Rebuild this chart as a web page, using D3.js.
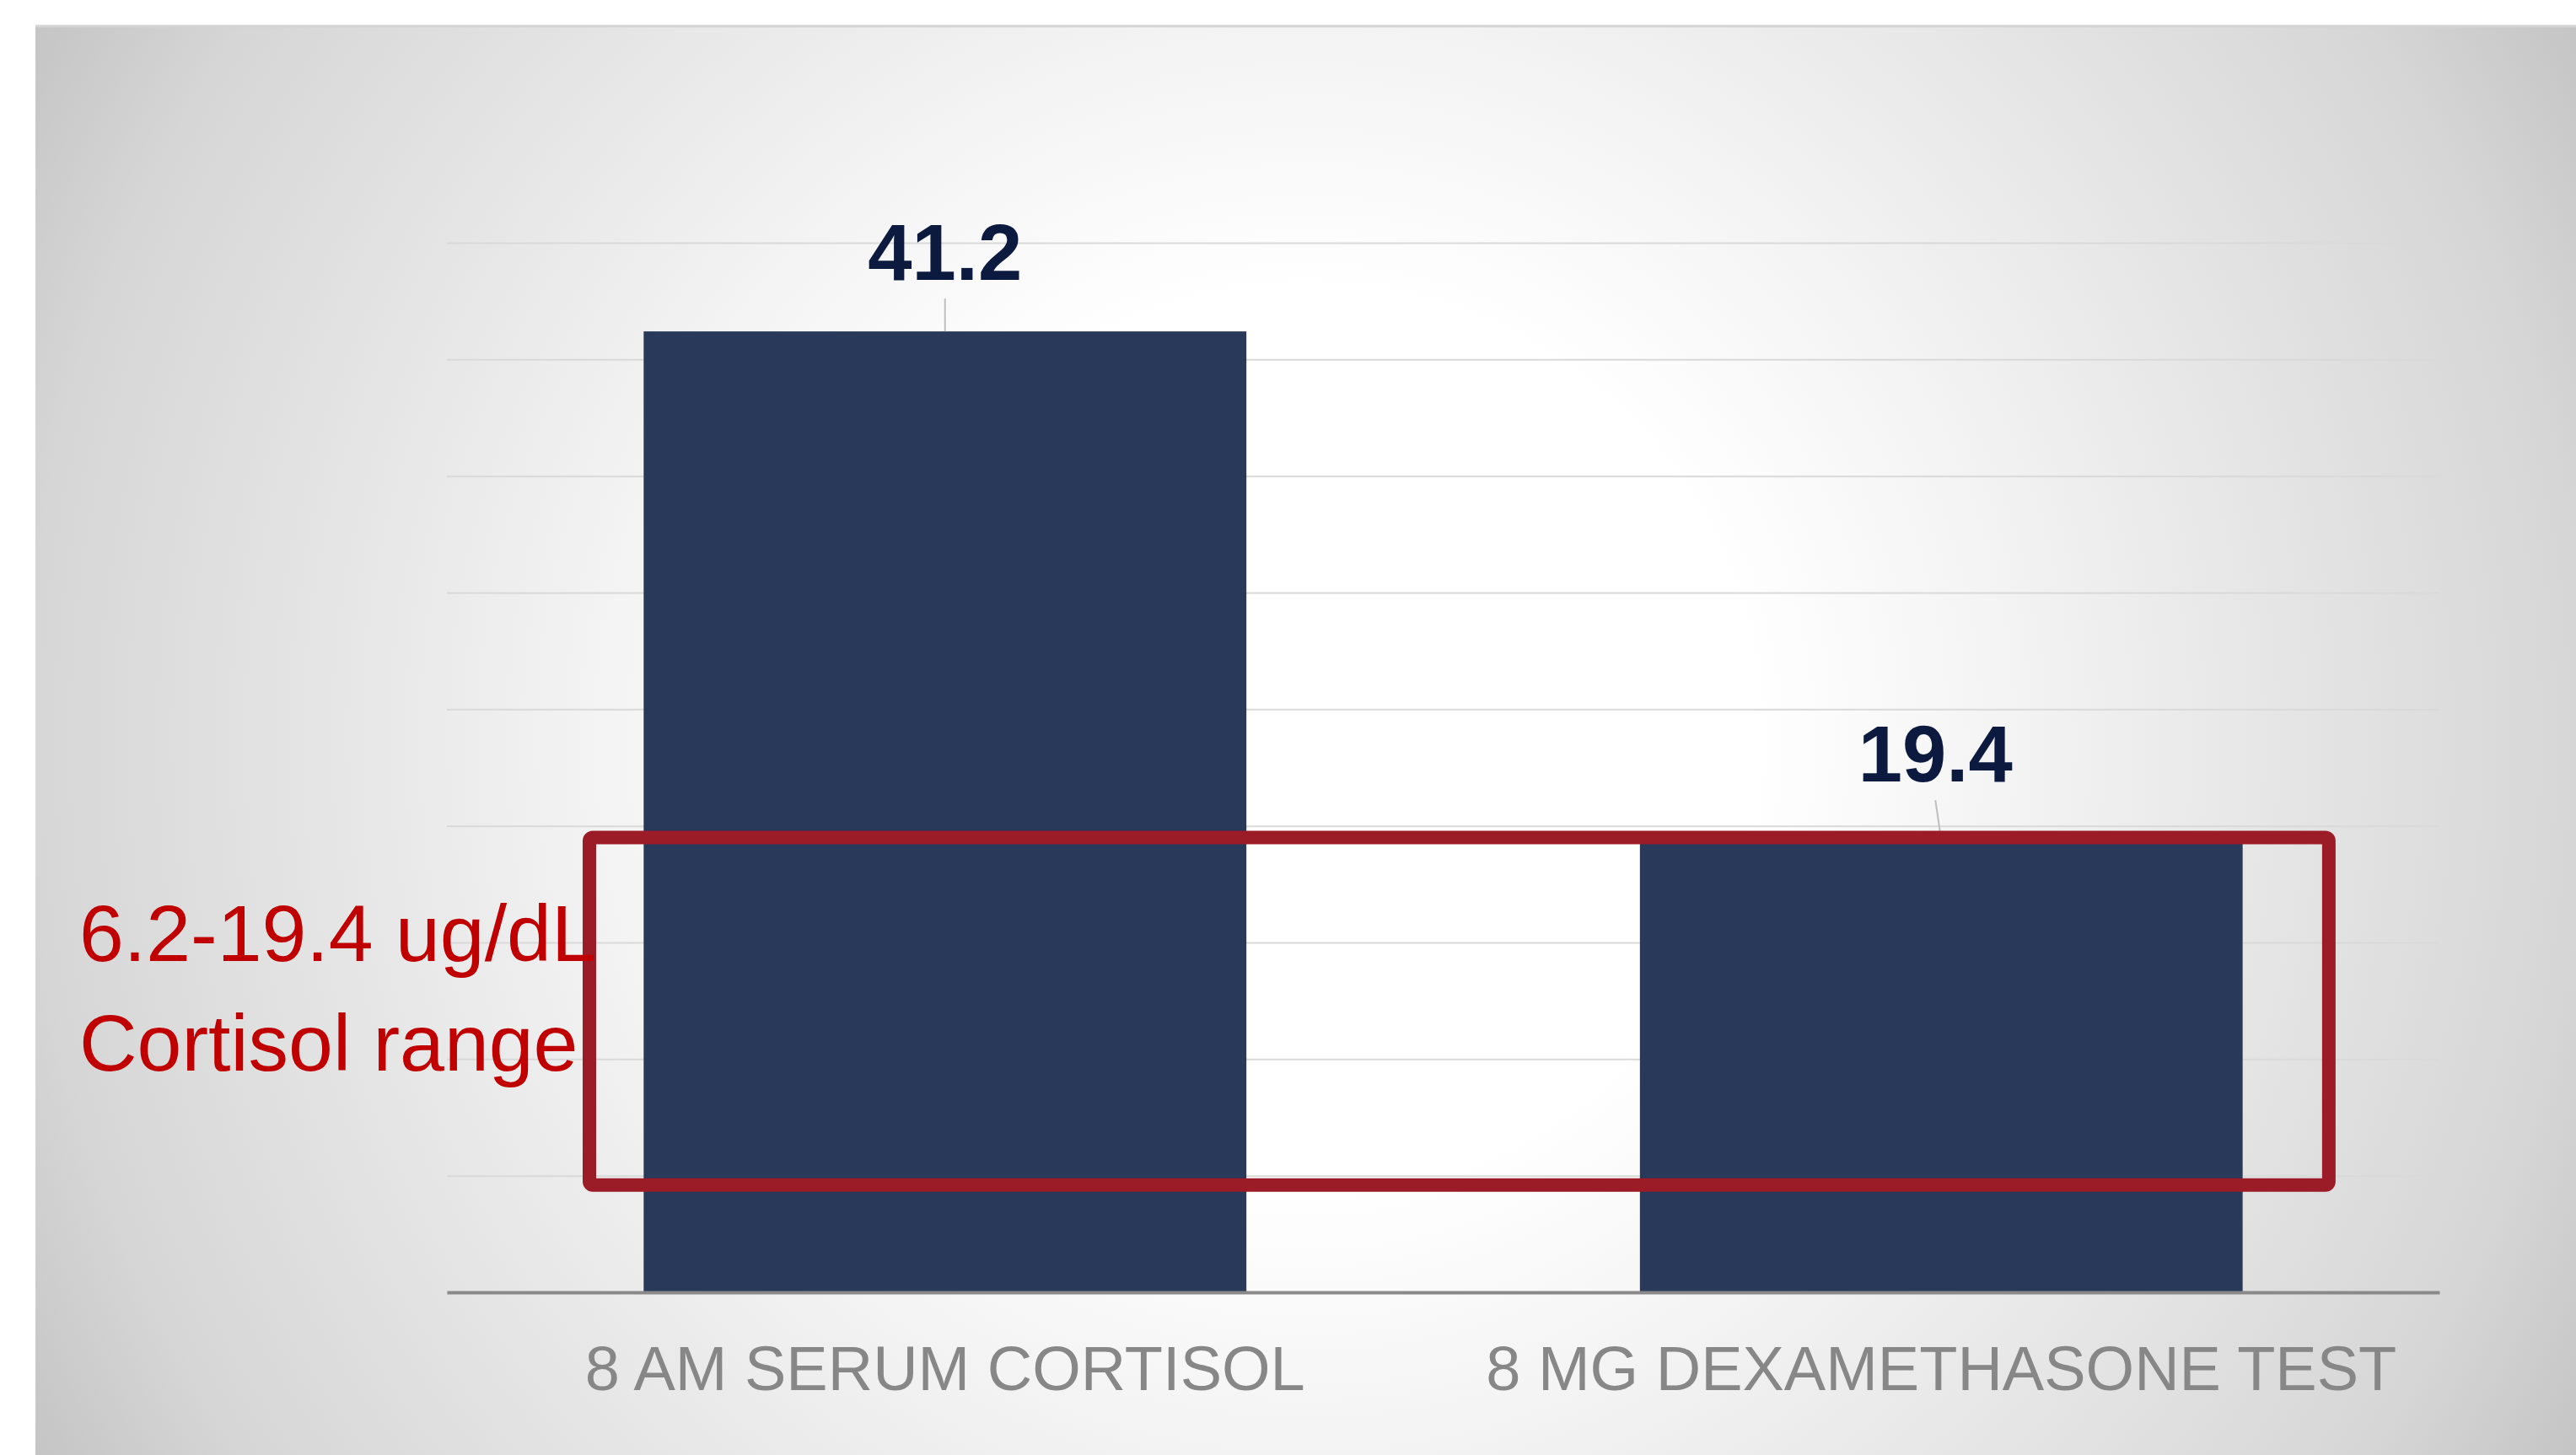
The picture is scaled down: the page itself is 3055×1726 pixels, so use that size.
<!DOCTYPE html>
<html>
<head>
<meta charset="utf-8">
<script src="https://cdn.jsdelivr.net/npm/d3@7"></script>
<style>
  html, body { margin: 0; padding: 0; background: #ffffff; }
  svg { display: block; }
</style>
</head>
<body>
<div id="chart"></div>
<script>
// chart values
const categories = ["8 AM SERUM CORTISOL", "8 MG DEXAMETHASONE TEST"];
const values = [41.2, 19.4];
const valueLabels = ["41.2", "19.4"];
const yTicks = [0, 5, 10, 15, 20, 25, 30, 35, 40, 45];
const rangeText = ["6.2-19.4 ug/dL", "Cortisol range"];
const rangeBox = [4.6, 19.5]; // hand drawn box, bottom / top in ug/dL

const W = 3055, H = 1726;
const margin = ({top: 288, right: 162, bottom: 193, left: 530});
const width = W - margin.left - margin.right;
const height = H - margin.top - margin.bottom;

const svg = d3.select('#chart').append('svg')
    .attr('width', W)
    .attr('height', H);

// background panel, white centre fading to grey at the corners
const defs = svg.append('defs');
const grad = defs.append('radialGradient')
    .attr('id', 'bg')
    .attr('gradientUnits', 'userSpaceOnUse')
    .attr('cx', 1548).attr('cy', 878).attr('r', 1760);
grad.append('stop').attr('offset', 0).attr('stop-color', '#ffffff');
grad.append('stop').attr('offset', 0.3).attr('stop-color', '#ffffff');
grad.append('stop').attr('offset', 0.48).attr('stop-color', '#f3f3f3');
grad.append('stop').attr('offset', 0.86).attr('stop-color', '#d6d6d6');
grad.append('stop').attr('offset', 1).attr('stop-color', '#c2c2c2');

svg.append('rect')
    .attr('x', 42).attr('y', 30)
    .attr('width', W - 42).attr('height', H - 30)
    .attr('fill', 'url(#bg)');
svg.append('line')
    .attr('x1', 42).attr('x2', W)
    .attr('y1', 31).attr('y2', 31)
    .attr('stroke', '#d4d4d4')
    .attr('stroke-width', 3);

const g = svg.append('g')
    .attr('transform', `translate(${margin.left},${margin.top})`);

const x = d3.scaleBand()
    .domain(categories)
    .range([0, width])
    .paddingInner(0.395)
    .paddingOuter(0.1975);

const y = d3.scaleLinear()
    .domain([0, 45])
    .range([height, 0]);

// gridlines
const yAxis = d3.axisLeft(y)
    .tickValues(yTicks)
    .tickSize(-width)
    .tickFormat('');
const gy = g.append('g').call(yAxis);
gy.select('.domain').remove();
gy.selectAll('.tick line')
    .attr('stroke', '#d9d9d9')
    .attr('stroke-width', 2);

// bars
g.selectAll('rect.bar')
    .data(values)
    .enter()
    .append('rect')
    .attr('class', 'bar')
    .attr('x', (d, i) => x(categories[i]))
    .attr('y', d => y(d))
    .attr('width', x.bandwidth())
    .attr('height', d => height - y(d))
    .attr('fill', '#29395a');

// x axis
const xAxis = d3.axisBottom(x).tickSize(0).tickPadding(63);
const gx = g.append('g')
    .attr('transform', `translate(0,${height})`)
    .call(xAxis);
gx.select('.domain')
    .attr('stroke', '#898989')
    .attr('stroke-width', 4);
gx.selectAll('text')
    .attr('fill', '#878787')
    .style('font-family', '"Liberation Sans", Arial, sans-serif')
    .style('font-size', '74px');

// data labels with leader lines
const labelDx = [0, -7];
const labelGap = [61, 69];
values.forEach((v, i) => {
    const cx = x(categories[i]) + x.bandwidth() / 2;
    const top = y(v);
    g.append('line')
        .attr('x1', cx + labelDx[i]).attr('y1', top - labelGap[i] + 22)
        .attr('x2', cx).attr('y2', top)
        .attr('stroke', '#bfbfbf')
        .attr('stroke-width', 2);
    g.append('text')
        .attr('x', cx + labelDx[i])
        .attr('y', top - labelGap[i])
        .attr('text-anchor', 'middle')
        .attr('fill', '#0c1a40')
        .style('font-family', '"Liberation Sans", Arial, sans-serif')
        .style('font-weight', 'bold')
        .style('font-size', '94px')
        .text(valueLabels[i]);
});

// reference range box
const boxLeft = x(categories[0]) - 0.09 * x.bandwidth();
const boxRight = x(categories[1]) + x.bandwidth() * 1.143;
g.append('rect')
    .attr('x', boxLeft)
    .attr('y', y(rangeBox[1]))
    .attr('width', boxRight - boxLeft)
    .attr('height', y(rangeBox[0]) - y(rangeBox[1]))
    .attr('rx', 4)
    .attr('fill', 'none')
    .attr('stroke', '#9b1b27')
    .attr('stroke-width', 16)
    .attr('stroke-linejoin', 'round');

// range text
svg.append('text')
    .attr('fill', '#c00000')
    .style('font-family', '"Liberation Sans", Arial, sans-serif')
    .style('font-size', '95px')
    .selectAll('tspan')
    .data(rangeText)
    .enter()
    .append('tspan')
    .attr('x', 94)
    .attr('y', (d, i) => 1140 + i * 130)
    .text(d => d);
</script>
</body>
</html>
